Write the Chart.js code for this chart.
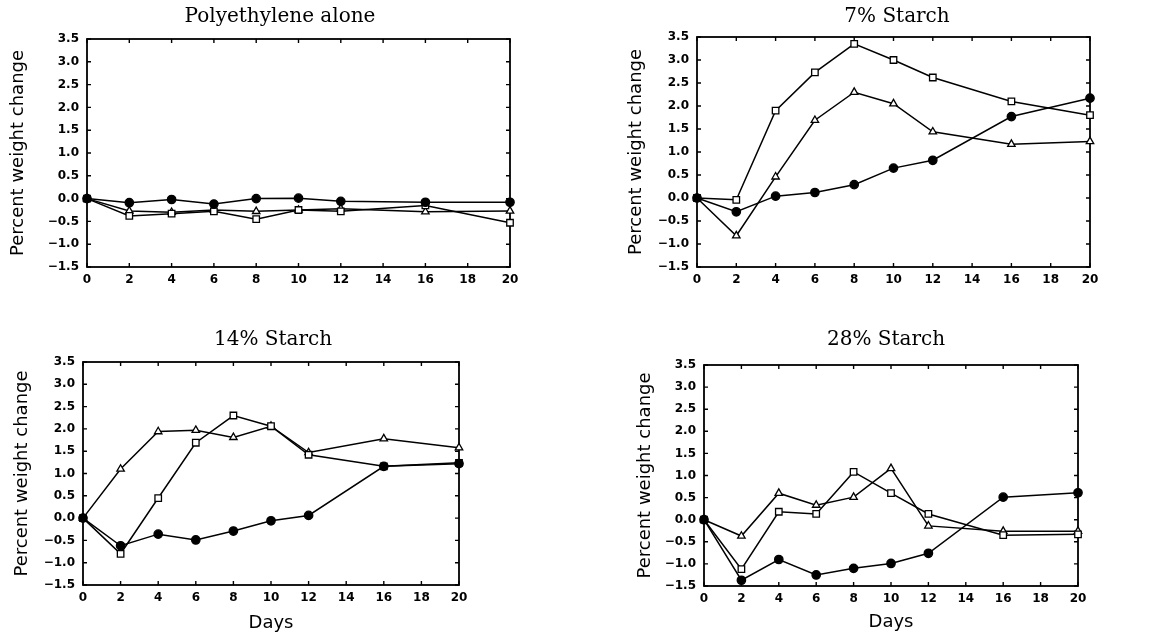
<!DOCTYPE html>
<html>
<head>
<meta charset="utf-8">
<title>Percent weight change</title>
<script src="https://cdn.jsdelivr.net/npm/chart.js@4/dist/chart.umd.min.js"></script>
<style>
 html, body { margin: 0; padding: 0; background: #fff; overflow: hidden; }
 #wrap { position: relative; width: 1152px; height: 639px; overflow: hidden; }
 .panel { position: absolute; }
</style>
</head>
<body>
<div id="wrap"></div>
<script>
// days on the x axis
const days = [0, 2, 4, 6, 8, 10, 12, 16, 20];
const xTickValues = [0, 2, 4, 6, 8, 10, 12, 14, 16, 18, 20];
const yTickValues = [-1.5, -1.0, -0.5, 0.0, 0.5, 1.0, 1.5, 2.0, 2.5, 3.0, 3.5];

// Polyethylene alone
const peCircle   = [0, -0.09, -0.02, -0.12, 0.00, 0.01, -0.06, -0.08, -0.08];
const peSquare   = [0, -0.38, -0.33, -0.28, -0.45, -0.25, -0.28, -0.15, -0.53];
const peTriangle = [0, -0.27, -0.30, -0.25, -0.28, -0.25, -0.22, -0.29, -0.27];

// 7% starch
const s7Circle   = [0, -0.30, 0.04, 0.12, 0.29, 0.65, 0.82, 1.77, 2.17];
const s7Square   = [0, -0.04, 1.90, 2.73, 3.35, 3.00, 2.62, 2.10, 1.80];
const s7Triangle = [0, -0.82, 0.46, 1.69, 2.30, 2.05, 1.44, 1.17, 1.23];

// 14% starch
const s14Circle   = [0, -0.62, -0.36, -0.49, -0.29, -0.06, 0.06, 1.16, 1.22];
const s14Square   = [0, -0.80, 0.45, 1.69, 2.30, 2.06, 1.42, 1.16, 1.24];
const s14Triangle = [0, 1.10, 1.94, 1.97, 1.81, 2.06, 1.47, 1.78, 1.58];

// 28% starch
const s28Circle   = [0, -1.37, -0.90, -1.25, -1.10, -0.99, -0.76, 0.51, 0.61];
const s28Square   = [0, -1.12, 0.18, 0.13, 1.08, 0.60, 0.13, -0.35, -0.33];
const s28Triangle = [0, -0.37, 0.60, 0.33, 0.51, 1.16, -0.14, -0.26, -0.26];

const panels = [
  { title: 'Polyethylene alone', series: [peCircle, peSquare, peTriangle],
    left: 0, top: 0, w: 560, h: 310, yW: 87, rW: 50, yPad: 7.2, tPad: { top: 5, bottom: 10 }, xH: 43, xTitle: '' },
  { title: '7% Starch', series: [s7Circle, s7Square, s7Triangle],
    left: 576, top: 0, w: 642, h: 310, yW: 121, rW: 128, yPad: 49.2, tPad: { top: 5, bottom: 8 }, xH: 43, xTitle: '' },
  { title: '14% Starch', series: [s14Circle, s14Square, s14Triangle],
    left: 0, top: 320, w: 546, h: 319, yW: 83, rW: 87, yPad: 11.7, tPad: { top: 8, bottom: 10 }, xH: 54, xTitle: 'Days', xPad: 5.2 },
  { title: '28% Starch', series: [s28Circle, s28Square, s28Triangle],
    left: 576, top: 320, w: 620, h: 319, yW: 128, rW: 118, yPad: 58.2, tPad: { top: 8, bottom: 13 }, xH: 53, xTitle: 'Days', xPad: 6.2 }
];

const markers = [
  { style: 'circle',   radius: 4.2, fill: '#000' },
  { style: 'rect',     radius: 4.6, fill: '#fff' },
  { style: 'triangle', radius: 4.3, fill: '#fff' }
];

const tickFont = { family: 'DejaVu Sans', size: 12, weight: 'bold' };

// frame round the plot with inward tick marks on all four sides
const boxTicks = {
  id: 'boxTicks',
  beforeDatasetsDraw(chart) {
    const { ctx, chartArea: a } = chart;
    const x = chart.scales.x, y = chart.scales.y;
    ctx.save();
    ctx.strokeStyle = '#000';
    ctx.lineWidth = 1.8;
    ctx.strokeRect(a.left, a.top, a.right - a.left, a.bottom - a.top);
    ctx.lineWidth = 1.4;
    ctx.beginPath();
    x.ticks.forEach(t => {
      const px = x.getPixelForValue(t.value);
      ctx.moveTo(px, a.bottom); ctx.lineTo(px, a.bottom - 4);
      ctx.moveTo(px, a.top); ctx.lineTo(px, a.top + 4);
    });
    y.ticks.forEach(t => {
      const py = y.getPixelForValue(t.value);
      ctx.moveTo(a.left, py); ctx.lineTo(a.left + 4, py);
      ctx.moveTo(a.right, py); ctx.lineTo(a.right - 4, py);
    });
    ctx.stroke();
    ctx.restore();
  }
};

const wrap = document.getElementById('wrap');

panels.forEach(p => {
  const div = document.createElement('div');
  div.className = 'panel';
  div.style.left = p.left + 'px';
  div.style.top = p.top + 'px';
  const cv = document.createElement('canvas');
  cv.width = p.w;
  cv.height = p.h;
  cv.style.width = p.w + 'px';
  cv.style.height = p.h + 'px';
  div.appendChild(cv);
  wrap.appendChild(div);

  const datasets = p.series.map((vals, i) => ({
    data: days.map((d, k) => ({ x: d, y: vals[k] })),
    borderColor: '#000',
    borderWidth: 1.5,
    pointStyle: markers[i].style,
    pointRadius: markers[i].radius,
    pointBackgroundColor: markers[i].fill,
    pointBorderColor: '#000',
    pointBorderWidth: 1.3,
    fill: false,
    tension: 0,
    clip: false
  }));

  new Chart(cv, {
    type: 'line',
    data: { datasets: datasets },
    options: {
      responsive: false,
      animation: false,
      layout: { padding: 0 },
      plugins: {
        legend: { display: false },
        tooltip: { enabled: false },
        title: {
          display: true,
          text: p.title,
          color: '#000',
          font: { family: 'DejaVu Serif', size: 20, weight: 'normal' },
          padding: p.tPad
        }
      },
      scales: {
        x: {
          type: 'linear',
          min: 0, max: 20,
          afterBuildTicks: s => { s.ticks = xTickValues.map(v => ({ value: v })); },
          grid: { display: false, drawTicks: false },
          border: { display: false },
          ticks: { color: '#000', font: tickFont, padding: 6, maxRotation: 0, autoSkip: false },
          title: {
            display: p.xTitle !== '',
            text: p.xTitle,
            color: '#000',
            font: { family: 'DejaVu Sans', size: 18 },
            padding: { top: 0, bottom: p.xPad || 0 }
          },
          afterFit: s => { s.height = p.xH; }
        },
        y: {
          type: 'linear',
          min: -1.5, max: 3.5,
          afterBuildTicks: s => { s.ticks = yTickValues.map(v => ({ value: v })); },
          grid: { display: false, drawTicks: false },
          border: { display: false },
          ticks: {
            color: '#000', font: tickFont, padding: 8, autoSkip: false,
            callback: v => v.toFixed(1).replace('-', '\u2212')
          },
          title: {
            display: true,
            text: 'Percent weight change',
            color: '#000',
            font: { family: 'DejaVu Sans', size: 18 },
            padding: { top: p.yPad, bottom: 0 }
          },
          afterFit: s => { s.width = p.yW; }
        },
        yr: {
          type: 'linear',
          position: 'right',
          grid: { display: false },
          border: { display: false },
          ticks: { display: false },
          afterFit: s => { s.width = p.rW; }
        }
      }
    },
    plugins: [boxTicks]
  });
});
</script>
</body>
</html>
